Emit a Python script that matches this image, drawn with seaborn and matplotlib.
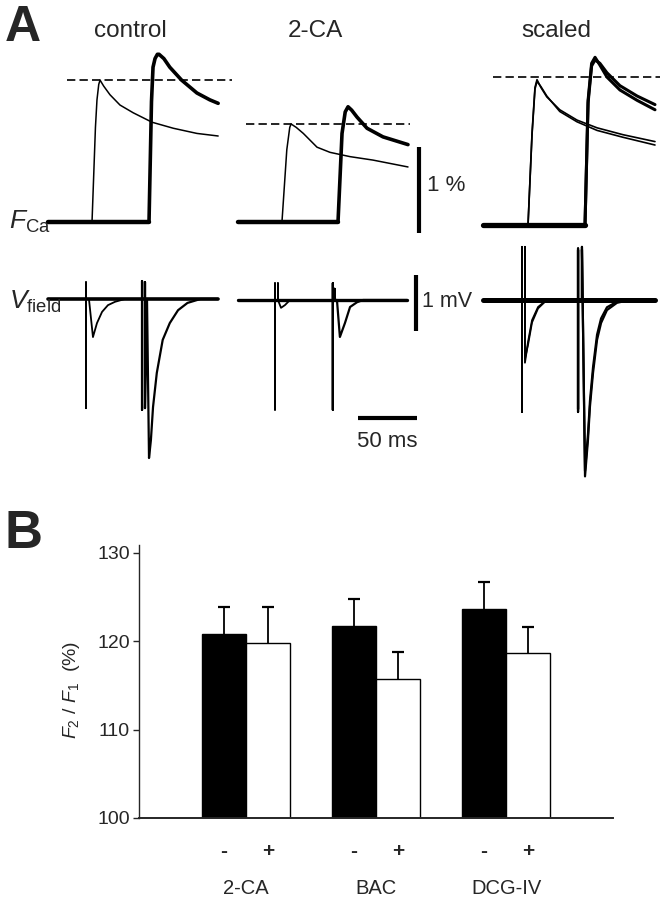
import numpy as np
import pandas as pd
import matplotlib
matplotlib.use("Agg")
import matplotlib.pyplot as plt
import matplotlib.transforms as mtransforms
import seaborn as sns

sns.set_style("white")
plt.rcParams["font.family"] = ["Liberation Sans", "DejaVu Sans"]
plt.rcParams["mathtext.fontset"] = "custom"
plt.rcParams["mathtext.it"] = "Liberation Sans:italic"
plt.rcParams["mathtext.rm"] = "Liberation Sans"

# ---------------- Panel A data (time in ms, F in %, V in mV) ----------------
col_titles = ["control", "2-CA", "scaled"]

# control column
ctrl_f1_t = [-32, 5.1, 8.0, 9.3, 10.8, 11.9, 15, 20.3, 28.8, 40, 56, 74, 94, 112]
ctrl_f1_v = [0, 0, 1.10, 1.42, 1.60, 1.65, 1.58, 1.48, 1.36, 1.27, 1.16, 1.09, 1.03, 1.00]
ctrl_f2_t = [53.4, 55.5, 56.8, 58.5, 60.5, 61.9, 66, 71, 81, 94, 105, 112]
ctrl_f2_v = [0, 1.40, 1.80, 1.90, 1.95, 1.95, 1.90, 1.80, 1.65, 1.50, 1.42, 1.38]
ctrl_fbase_t = [-32, 53.4]
ctrl_peak1 = 1.65
ctrl_dash_t = [-16, 124]

ctrl_v1_t = [-32, 0, 0, 0, 0, 2.5, 5.9, 9.3, 13.6, 18.6, 24.6, 33, 112]
ctrl_v1_v = [0, 0, 0.30, -1.95, 0, 0, -0.68, -0.43, -0.23, -0.11, -0.05, 0, 0]
ctrl_v2_t = [47.5, 47.5, 47.5, 47.5, 50, 50, 50, 51.7, 53.4, 55, 56.8, 60, 65, 71, 78, 86, 97, 112]
ctrl_v2_v = [0, 0.32, -1.98, 0, 0, 0.30, -1.95, 0, -2.84, -2.52, -1.93, -1.32, -0.73, -0.43, -0.20, -0.07, 0, 0]
ctrl_vbase_t = [-32, 112]

# 2-CA column
tca_f1_t = [-31, 5.9, 10, 12.5, 13.6, 18, 24, 35.6, 46.6, 63.6, 83, 112.7]
tca_f1_v = [0, 0, 0.84, 1.10, 1.14, 1.10, 1.03, 0.87, 0.81, 0.76, 0.72, 0.64]
tca_f2_t = [53.4, 56.8, 59.5, 61.9, 65, 69.5, 78, 91.5, 112.7]
tca_f2_v = [0, 1.03, 1.28, 1.34, 1.30, 1.22, 1.09, 0.99, 0.90]
tca_fbase_t = [-31, 53.4]
tca_peak1 = 1.14
tca_dash_t = [-25, 114]

tca_v1_t = [-31, 0, 0, 0, 0, 2.5, 2.5, 2.5, 5.1, 8.5, 12.7, 112]
tca_v1_v = [0, 0, 0.30, -1.96, 0, 0, 0.30, 0, -0.14, -0.09, 0, 0]
tca_v2_t = [49, 49, 49, 49, 50.5, 50.5, 50.5, 52.5, 55, 59.3, 63.6, 69.5, 74.6, 112]
tca_v2_v = [0, 0.30, -1.96, 0, 0, 0.20, 0, 0, -0.66, -0.41, -0.125, -0.04, 0, 0]
tca_vbase_t = [-31, 112]

# scaled column (two overlaid recordings)
scl_f1_t = [-33, 5.1, 8.5, 11, 12.7, 16, 21, 32, 46.6, 63.6, 85.6, 112.7]
scl_f1_v = [0, 0, 1.07, 1.60, 1.69, 1.60, 1.49, 1.34, 1.22, 1.13, 1.05, 0.97]
scl_f1b_v = [0, 0, 1.05, 1.58, 1.67, 1.61, 1.50, 1.32, 1.20, 1.10, 1.02, 0.93]
scl_f2_t = [53.4, 56, 59, 61.9, 66, 72, 83, 97.5, 112.7]
scl_f2_v = [0, 1.45, 1.88, 1.95, 1.86, 1.72, 1.57, 1.45, 1.34]
scl_f2b_v = [0, 1.42, 1.85, 1.92, 1.88, 1.77, 1.62, 1.50, 1.40]
scl_fbase_t = [-33, 53.4]
scl_peak1 = 1.72
scl_dash_t = [-25, 117]

scl_v1_t = [-33, 0, 0, 0, 0, 2.5, 2.5, 2.5, 5.1, 8.5, 13.6, 21, 113]
scl_v1_v = [0, 0, 0.95, -2.0, 0, 0, 0.95, -1.12, -0.75, -0.36, -0.125, 0, 0]
scl_v1b_v = [0, 0, 0.90, -1.95, 0, 0, 0.90, -1.05, -0.80, -0.40, -0.15, 0, 0]
scl_v2_t = [47.5, 47.5, 47.5, 47.5, 50.8, 50.8, 53.4, 55.9, 57.6, 60.2, 63.6, 67, 72, 80.5, 91.5, 113]
scl_v2_v = [0, 0.89, -2.0, 0, 0, 0.95, -3.15, -2.5, -1.9, -1.3, -0.71, -0.41, -0.18, -0.05, 0, 0]
scl_v2b_v = [0, 0.92, -1.95, 0, 0, 0.90, -3.05, -2.4, -1.8, -1.2, -0.62, -0.33, -0.13, -0.03, 0, 0]
scl_vbase_t = [-33, 113]

# scale bars
bar_pct = 1.0
bar_mv = 1.0
bar_ms = 50.0

# ---------------- Panel B data ----------------
groups = ["2-CA", "BAC", "DCG-IV"]
drug = ["-", "+"]
ratio_minus = [120.8, 121.7, 123.7]
ratio_plus = [119.8, 115.7, 118.7]
sem_minus = [3.1, 3.1, 3.0]
sem_plus = [4.1, 3.1, 2.9]
yticks_b = [100, 110, 120, 130]

# ---------------- layout ----------------
W, H = 660, 899
fig = plt.figure(figsize=(W / 100, H / 100), dpi=100)
fig.patch.set_facecolor("white")

PX_MS, PX_PCT, PX_MV = 1.18, 86.0, 56.0
origins = [86, 275, 522]
f_base = [222, 222, 225]
v_base = [299, 300, 300]


def px_axes(x0, y0, x1, y1):
    ax = fig.add_axes([x0 / W, 1 - y1 / H, (x1 - x0) / W, (y1 - y0) / H])
    ax.set_axis_off()
    return ax


f_axes, v_axes = [], []
for ox, fb, vb in zip(origins, f_base, v_base):
    axf = px_axes(ox - 50, 40, ox + 150, 245)
    axf.set_xlim(-50 / PX_MS, 150 / PX_MS)
    axf.set_ylim((fb - 245) / PX_PCT, (fb - 40) / PX_PCT)
    axv = px_axes(ox - 50, 245, ox + 150, 495)
    axv.set_xlim(-50 / PX_MS, 150 / PX_MS)
    axv.set_ylim((vb - 495) / PX_MV, (vb - 245) / PX_MV)
    f_axes.append(axf)
    v_axes.append(axv)


def trace(ax, t, v, lw):
    sns.lineplot(x=t, y=v, ax=ax, sort=False, estimator=None, color="black",
                 linewidth=lw, legend=False)


def flat(ax, t, lw):
    trace(ax, t, [0] * len(t), lw)


DASH = (0, (5, 2.5))

# control
ax = f_axes[0]
flat(ax, ctrl_fbase_t, 3.2)
trace(ax, ctrl_f1_t, ctrl_f1_v, 1.1)
trace(ax, ctrl_f2_t, ctrl_f2_v, 2.6)
ax.hlines(ctrl_peak1, *ctrl_dash_t, colors="black", linewidth=1.2, linestyles=DASH)
ax = v_axes[0]
flat(ax, ctrl_vbase_t, 2.6)
trace(ax, ctrl_v1_t, ctrl_v1_v, 1.3)
trace(ax, ctrl_v2_t, ctrl_v2_v, 1.6)

# 2-CA
ax = f_axes[1]
flat(ax, tca_fbase_t, 3.2)
trace(ax, tca_f1_t, tca_f1_v, 1.1)
trace(ax, tca_f2_t, tca_f2_v, 2.6)
ax.hlines(tca_peak1, *tca_dash_t, colors="black", linewidth=1.2, linestyles=DASH)
ax = v_axes[1]
flat(ax, tca_vbase_t, 2.4)
trace(ax, tca_v1_t, tca_v1_v, 1.3)
trace(ax, tca_v2_t, tca_v2_v, 1.6)

# scaled
ax = f_axes[2]
flat(ax, scl_fbase_t, 3.8)
trace(ax, scl_f1_t, scl_f1_v, 1.2)
trace(ax, scl_f1_t, scl_f1b_v, 1.2)
trace(ax, scl_f2_t, scl_f2_v, 2.2)
trace(ax, scl_f2_t, scl_f2b_v, 2.2)
ax.hlines(scl_peak1, *scl_dash_t, colors="black", linewidth=1.2, linestyles=DASH)
ax = v_axes[2]
flat(ax, scl_vbase_t, 3.6)
trace(ax, scl_v1_t, scl_v1_v, 1.3)
trace(ax, scl_v1_t, scl_v1b_v, 1.3)
trace(ax, scl_v2_t, scl_v2_v, 1.6)
trace(ax, scl_v2_t, scl_v2b_v, 1.6)

for ax in f_axes + v_axes:
    for ln in ax.get_lines():
        ln.set_clip_on(False)

# scale bars (in 2-CA axes)
ax = f_axes[1]
ax.plot([122, 122], [-0.13, -0.13 + bar_pct], color="black", lw=3.0,
        solid_capstyle="butt", clip_on=False)
ax.text(129, 0.43, "1 %", fontsize=16, ha="left", va="center")
ax = v_axes[1]
ax.plot([119.5, 119.5], [-0.55, -0.55 + bar_mv], color="black", lw=3.0,
        solid_capstyle="butt", clip_on=False)
ax.text(124.5, -0.02, "1 mV", fontsize=15.5, ha="left", va="center")
ax.plot([70.3, 70.3 + bar_ms], [-2.11, -2.11], color="black", lw=3.0,
        solid_capstyle="butt", clip_on=False)
ax.text(70.3 + bar_ms / 2, -2.52, "50 ms", fontsize=16, ha="center", va="center")


def ftext(x, y, s, **kw):
    fig.text(x / W, 1 - y / H, s, **kw)


for cx, title in zip([130, 315, 556], col_titles):
    ftext(cx, 31, title, fontsize=17.5, ha="center", va="center")

ftext(5, 28, "A", fontsize=36, fontweight="bold", ha="left", va="center")
ftext(4, 534, "B", fontsize=38, fontweight="bold", ha="left", va="center")
ftext(9, 222, r"$F_{\mathrm{Ca}}$", fontsize=19, ha="left", va="center")
ftext(9, 302, r"$V_{\mathrm{field}}$", fontsize=19, ha="left", va="center")

# ---------------- Panel B ----------------
df = pd.DataFrame({
    "group": groups * 2,
    "drug": ["-"] * 3 + ["+"] * 3,
    "ratio": ratio_minus + ratio_plus,
})
axb = fig.add_axes([139 / W, 1 - 818 / H, (613 - 139) / W, (818 - 545) / H])
sns.barplot(data=df, x="group", y="ratio", hue="drug", order=groups, hue_order=drug,
            palette={"-": "black", "+": "white"}, edgecolor="black", linewidth=1.0,
            width=0.68, gap=0, errorbar=None, legend=False, ax=axb)
axb.set_ylim(100, 130.9)
axb.set_xlim(-0.823, 2.823)

sems = {"-": sem_minus, "+": sem_plus}
centers, labels = [], []
for cont, d in zip(axb.containers, drug):
    xs = [p.get_x() + p.get_width() / 2 for p in cont]
    hs = [p.get_height() for p in cont]
    eb = axb.errorbar(xs, hs, yerr=[[0] * len(xs), sems[d]], fmt="none", ecolor="black",
                      elinewidth=1.3, capsize=4.5, capthick=1.6)
    caplines = eb[1]
    if len(caplines) == 2:
        caplines[0].set_visible(False)   # keep only the upper caps
    centers += xs
    labels += [d] * len(xs)

axb.set_xticks(centers)
axb.set_xticklabels(labels, fontsize=15, fontweight="bold")
axb.tick_params(axis="x", length=0, pad=17)
axb.set_yticks(yticks_b)
axb.set_yticklabels([str(v) for v in yticks_b], fontsize=14)
axb.tick_params(axis="y", direction="out", length=4.5, width=1.0, pad=2, left=True)
sns.despine(ax=axb, top=True, right=True)
axb.spines["left"].set_linewidth(1.0)
axb.spines["bottom"].set_linewidth(1.4)
axb.set_xlabel("")
axb.set_ylabel("")
trans = mtransforms.blended_transform_factory(axb.transData, axb.transAxes)
for i, g in enumerate(groups):
    axb.text(i, -(888 - 818) / (818 - 545), g, transform=trans, fontsize=14.5,
             ha="center", va="center")

ftext(72, 690, r"$F_{2}$ / $F_{1}$  (%)", fontsize=14, rotation=90, ha="center", va="center")

fig.savefig("out.png", dpi=100, facecolor="white")
